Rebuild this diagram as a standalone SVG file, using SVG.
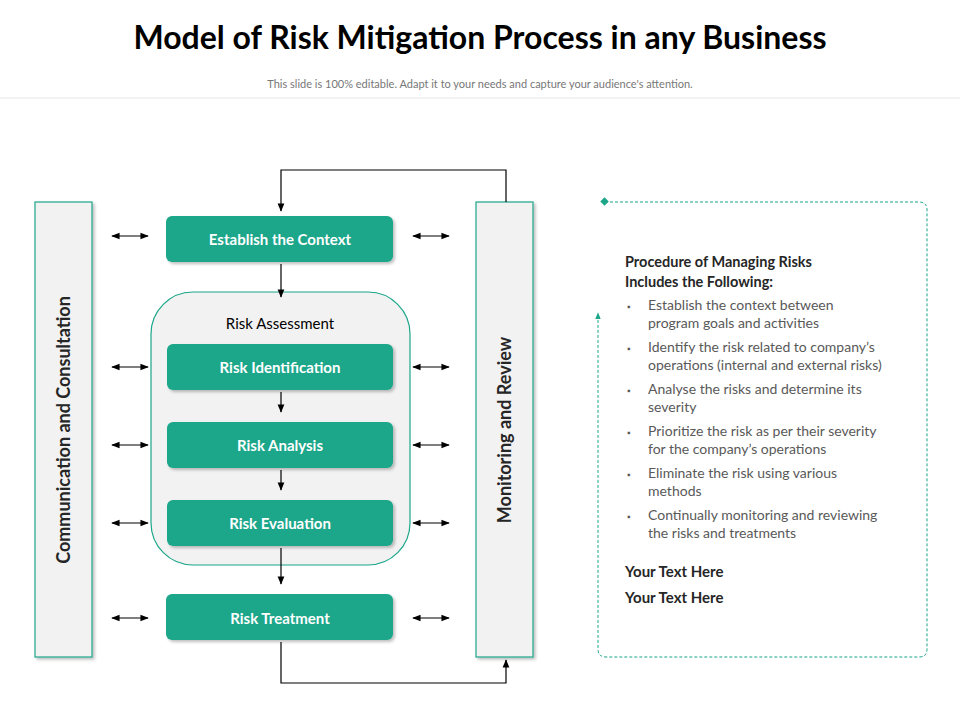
<svg xmlns="http://www.w3.org/2000/svg" width="960" height="720" viewBox="0 0 960 720">
<style>
.t{font-family:"Century Gothic","Lato","Liberation Sans",sans-serif}
.g{fill:#1ba68a;filter:url(#sh)}
.gt{fill:#fff;font-size:15px;font-weight:bold;text-anchor:middle}
.side{fill:#f2f2f2;stroke:#1ba68a;stroke-width:1.2;filter:url(#sh)}
.ln{stroke:#000;stroke-width:1.2;fill:none}
.b{font-size:14px;fill:#595959}
</style>
<defs>
<marker id="a" viewBox="0 0 10 10" refX="9" refY="5" markerWidth="7" markerHeight="7" orient="auto-start-reverse"><path d="M0,1L10,5L0,9z" fill="#000"/></marker>
<marker id="ga" viewBox="0 0 10 10" refX="9" refY="5" markerWidth="7" markerHeight="7" orient="auto"><path d="M0,1L10,5L0,9z" fill="#1ba68a"/></marker>
<filter id="sh" x="-10%" y="-10%" width="130%" height="130%"><feDropShadow dx="2" dy="2" stdDeviation="1.5" flood-color="#000" flood-opacity="0.25"/></filter>
</defs>
<rect width="960" height="720" fill="#fff"/>
<text class="t" x="480" y="49" font-size="32" font-weight="bold" text-anchor="middle" fill="#000">Model of  Risk Mitigation Process in any Business</text>
<text class="t" x="480" y="88" font-size="11" text-anchor="middle" fill="#777">This slide is 100% editable. Adapt it to your needs and capture your audience's attention.</text>
<line x1="0" y1="98" x2="960" y2="98" stroke="#e6e6e6"/>

<g id="comm"><rect class="side" x="35" y="202" width="57" height="455"/>
<text class="t" transform="translate(70,430) rotate(-90)" font-size="18" font-weight="bold" text-anchor="middle" fill="#262626">Communication and Consultation</text></g>
<g id="monitor"><rect class="side" x="476" y="202" width="57" height="455"/>
<text class="t" transform="translate(511,430) rotate(-90)" font-size="18" font-weight="bold" text-anchor="middle" fill="#262626">Monitoring and Review</text></g>

<g id="assessment"><rect x="151" y="292" width="259" height="273" rx="42" fill="#f2f2f2" stroke="#1ba68a" stroke-width="1.2"/>
<text class="t" x="280" y="329" font-size="15" text-anchor="middle" fill="#000">Risk Assessment</text></g>

<g id="context"><rect class="g" x="166" y="216" width="227" height="46" rx="6"/><text class="t gt" x="280" y="245">Establish the Context</text></g>
<g id="ident"><rect class="g" x="167" y="344" width="226" height="46" rx="6"/><text class="t gt" x="280" y="373">Risk Identification</text></g>
<g id="analysis"><rect class="g" x="167" y="422" width="226" height="46" rx="6"/><text class="t gt" x="280" y="451">Risk Analysis</text></g>
<g id="evaluation"><rect class="g" x="167" y="500" width="226" height="46" rx="6"/><text class="t gt" x="280" y="529">Risk Evaluation</text></g>
<g id="treatment"><rect class="g" x="166" y="594" width="227" height="46" rx="6"/><text class="t gt" x="280" y="624">Risk Treatment</text></g>

<g id="connectors">
<path class="ln" d="M506,202V170H281V211" marker-end="url(#a)"/>
<path class="ln" d="M281,264V297" marker-end="url(#a)"/>
<path class="ln" d="M281,392V412" marker-end="url(#a)"/>
<path class="ln" d="M281,470V490" marker-end="url(#a)"/>
<path class="ln" d="M281,548V584" marker-end="url(#a)"/>
<path class="ln" d="M281,642V683H506V660" marker-end="url(#a)"/>
<path class="ln" d="M112,236H148" marker-start="url(#a)" marker-end="url(#a)"/>
<path class="ln" d="M112,367H148" marker-start="url(#a)" marker-end="url(#a)"/>
<path class="ln" d="M112,445H148" marker-start="url(#a)" marker-end="url(#a)"/>
<path class="ln" d="M112,523H148" marker-start="url(#a)" marker-end="url(#a)"/>
<path class="ln" d="M112,618H148" marker-start="url(#a)" marker-end="url(#a)"/>
<path class="ln" d="M413,236H449" marker-start="url(#a)" marker-end="url(#a)"/>
<path class="ln" d="M413,367H449" marker-start="url(#a)" marker-end="url(#a)"/>
<path class="ln" d="M413,445H449" marker-start="url(#a)" marker-end="url(#a)"/>
<path class="ln" d="M413,523H449" marker-start="url(#a)" marker-end="url(#a)"/>
<path class="ln" d="M413,618H449" marker-start="url(#a)" marker-end="url(#a)"/>
</g>

<g id="panel">
<path d="M605,202H919Q927,202 927,210V649Q927,657 919,657H606Q598,657 598,649V313" fill="none" stroke="#1ba68a" stroke-width="1" stroke-dasharray="3,2" marker-end="url(#ga)"/>
<rect x="601.5" y="198.5" width="6" height="6" fill="#1ba68a" transform="rotate(45 604.5 201.5)"/>
<text class="t" font-size="14.5" font-weight="bold" fill="#262626"><tspan x="625" y="267">Procedure of Managing Risks</tspan><tspan x="625" y="287">Includes the Following:</tspan></text>
<g class="t b">
<text x="627" y="310" font-size="9">▪</text><text x="648" y="310">Establish the context between</text><text x="648" y="328">program goals and activities</text>
<text x="627" y="352" font-size="9">▪</text><text x="648" y="352">Identify the risk related to company’s</text><text x="648" y="370">operations (internal and external risks)</text>
<text x="627" y="394" font-size="9">▪</text><text x="648" y="394">Analyse the risks and determine its</text><text x="648" y="412">severity</text>
<text x="627" y="436" font-size="9">▪</text><text x="648" y="436">Prioritize the risk as per their severity</text><text x="648" y="454">for the company’s operations</text>
<text x="627" y="478" font-size="9">▪</text><text x="648" y="478">Eliminate the risk using various</text><text x="648" y="496">methods</text>
<text x="627" y="520" font-size="9">▪</text><text x="648" y="520">Continually monitoring and reviewing</text><text x="648" y="538">the risks and treatments</text>
</g>
<text class="t" x="625" y="577" font-size="15" font-weight="bold" fill="#262626">Your Text Here</text>
<text class="t" x="625" y="603" font-size="15" font-weight="bold" fill="#262626">Your Text Here</text>
</g>
</svg>
